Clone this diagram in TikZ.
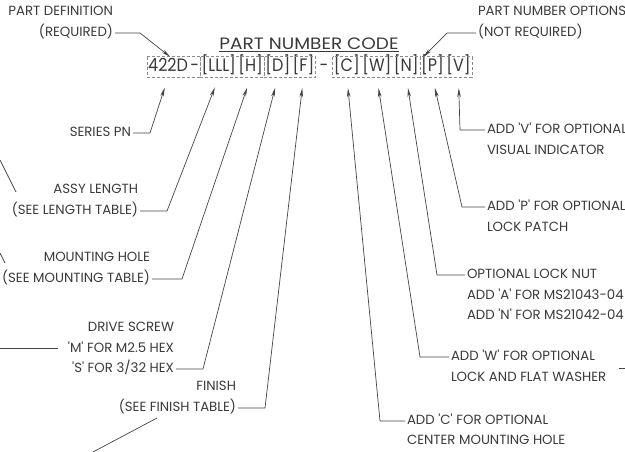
\documentclass[tikz,border=0pt]{standalone}
\usepackage{fontspec}
\setmainfont{Poppins}
\newfontfamily\codefont{Poppins}[FakeStretch=0.89]
\newfontfamily\titlefont{Poppins}[FakeStretch=1.12]
\usetikzlibrary{arrows.meta,positioning}
\definecolor{pnInk}{HTML}{3A3A3A}
\definecolor{pnLine}{HTML}{444444}
\definecolor{pnGray}{HTML}{8A8A8A}
\newcommand{\tq}{\textquotesingle}
\tikzset{
  every picture/.style={font=\fontsize{13.3}{15}\selectfont, text=pnInk},
  pn label/.style={inner sep=0pt, outer sep=2pt, text height=9.5pt, text depth=2.5pt},
  pn left/.style={pn label, anchor=east},
  pn right/.style={pn label, anchor=west},
  pn code/.style={inner xsep=1pt, inner ysep=0pt, minimum height=20pt,
    text height=13pt, text depth=3pt, font=\codefont\fontsize{18}{20}\selectfont},
  pn frame/.style={draw=pnGray, line width=0.6pt, dash pattern=on 3pt off 2pt},
  pn leader/.style={draw=pnLine, line width=0.7pt},
  pn arrow/.style={pn leader, -{Stealth[length=9pt,width=3.6pt]}, line cap=butt},
  pn up/.style={pn arrow, shorten >=11pt},
  pn stub/.style={draw=pnLine, line width=0.7pt}
}

\begin{document}
\begin{tikzpicture}[x=1pt,y=-1pt]
  \useasboundingbox (0,0) rectangle (625,452);
  \clip (0,0) rectangle (625,452);

  % code line
  \node[pn code, anchor=west] (c422) at (147,67) {422D};
  \node[pn code, right=0pt of c422] (cDashA) {-};
  \node[pn code, right=0pt of cDashA] (cLLL) {[LLL]};
  \node[pn code, right=0pt of cLLL] (cH) {[H]};
  \node[pn code, right=0pt of cH] (cD) {[D]};
  \node[pn code, right=0pt of cD] (cF) {[F]};
  \node[pn code, inner xsep=4pt, right=0pt of cF] (cDashB) {-};
  \node[pn code, right=0pt of cDashB] (cC) {[C]};
  \node[pn code, right=0pt of cC] (cW) {[W]};
  \node[pn code, right=0pt of cW] (cN) {[N]};
  \node[pn code, right=0pt of cN] (cP) {[P]};
  \node[pn code, right=0pt of cP] (cV) {[V]};
  \draw[pn frame] (c422.north west) rectangle (cDashA.south east);
  \draw[pn frame] (cLLL.north west) rectangle (cH.south east);
  \draw[pn frame] (cD.north west) rectangle (cF.south east);
  \draw[pn frame] (cC.north west) rectangle (cN.south east);
  \draw[pn frame] (cP.north west) rectangle (cV.south east);

  \node[inner sep=0pt, anchor=base, font=\titlefont\fontsize{16.5}{18}\selectfont] (title) at (309,50) {\underline{PART NUMBER CODE}};

  % top notes
  \node[pn left] at (115,12) {PART DEFINITION};
  \node[pn left] (defReq) at (115,33) {(REQUIRED)};
  \coordinate (kDef) at (140,33);
  \draw[pn arrow] (defReq.east) -- (kDef) -- ([xshift=2pt]c422.north);

  \node[pn right] at (476,12) {PART NUMBER OPTIONS};
  \node[pn right] (optReq) at (476,33) {(NOT REQUIRED)};
  \coordinate (kOpt) at (447,33);
  \draw[pn arrow] (optReq.west) -- (kOpt) -- ([xshift=-9pt]cP.north);

  % left notes
  \node[pn left] (series) at (133,133) {SERIES PN};
  \coordinate (kSeries) at (150,133);
  \draw[pn up] (series.east) -- (kSeries) -- (c422.south);

  \node[pn left] at (140,190) {ASSY LENGTH};
  \node[pn left] (assy) at (140,211) {(SEE LENGTH TABLE)};
  \coordinate (kAssy) at (167,211);
  \draw[pn up] (assy.east) -- (kAssy) -- (cLLL.south);

  \node[pn left] at (152,258) {MOUNTING HOLE};
  \node[pn left] (mount) at (152,279) {(SEE MOUNTING TABLE)};
  \coordinate (kMount) at (182,279);
  \draw[pn up] (mount.east) -- (kMount) -- (cH.south);

  \node[pn left] at (176,328) {DRIVE SCREW};
  \node[pn left] at (176,349) {\tq M\tq{} FOR M2.5 HEX};
  \node[pn left] (drive) at (176,369) {\tq S\tq{} FOR 3/32 HEX};
  \coordinate (kDrive) at (203,369);
  \draw[pn up] (drive.east) -- (kDrive) -- (cD.south);

  \node[pn left] at (238,387) {FINISH};
  \node[pn left] (finish) at (238,408) {(SEE FINISH TABLE)};
  \coordinate (kFinish) at (265,408);
  \draw[pn up] (finish.east) -- (kFinish) -- (cF.south);

  % right notes
  \node[pn right] (optV) at (485,130) {ADD \tq V\tq{} FOR OPTIONAL};
  \node[pn right] at (485,151) {VISUAL INDICATOR};
  \coordinate (kV) at (460,130);
  \draw[pn up] (optV.west) -- (kV) -- (cV.south);

  \node[pn right] (optP) at (485,207) {ADD \tq P\tq{} FOR OPTIONAL};
  \node[pn right] at (485,228) {LOCK PATCH};
  \coordinate (kP) at (462,207);
  \draw[pn up] (optP.west) -- (kP) -- (cP.south);

  \node[pn right] (optN) at (465,275) {OPTIONAL LOCK NUT};
  \node[pn right] at (465,296) {ADD \tq A\tq{} FOR MS21043-04};
  \node[pn right] at (465,316) {ADD \tq N\tq{} FOR MS21042-04};
  \coordinate (kN) at (437,275);
  \draw[pn up] (optN.west) -- (kN) -- (cN.south);

  \node[pn right] (optW) at (449,357) {ADD \tq W\tq{} FOR OPTIONAL};
  \node[pn right] at (449,378) {LOCK AND FLAT WASHER};
  \coordinate (kW) at (420,357);
  \draw[pn up] (optW.west) -- (kW) -- (cW.south);

  \node[pn right] (optC) at (405,421) {ADD \tq C\tq{} FOR OPTIONAL};
  \node[pn right] at (405,441) {CENTER MOUNTING HOLE};
  \coordinate (kC) at (380,421);
  \draw[pn up] (optC.west) -- (kC) -- (cC.south);

  % cut-off lines of the neighbouring views
  \draw[pn stub] (0,160) -- (16,192);
  \draw[pn stub] (0,253) -- (5,263);
  \draw[pn stub] (0,348) -- (58,348);
  \draw[pn stub] (93,452) -- (157,418);
  \draw[pn stub] (619,368) -- (625,368);
\end{tikzpicture}
\end{document}
